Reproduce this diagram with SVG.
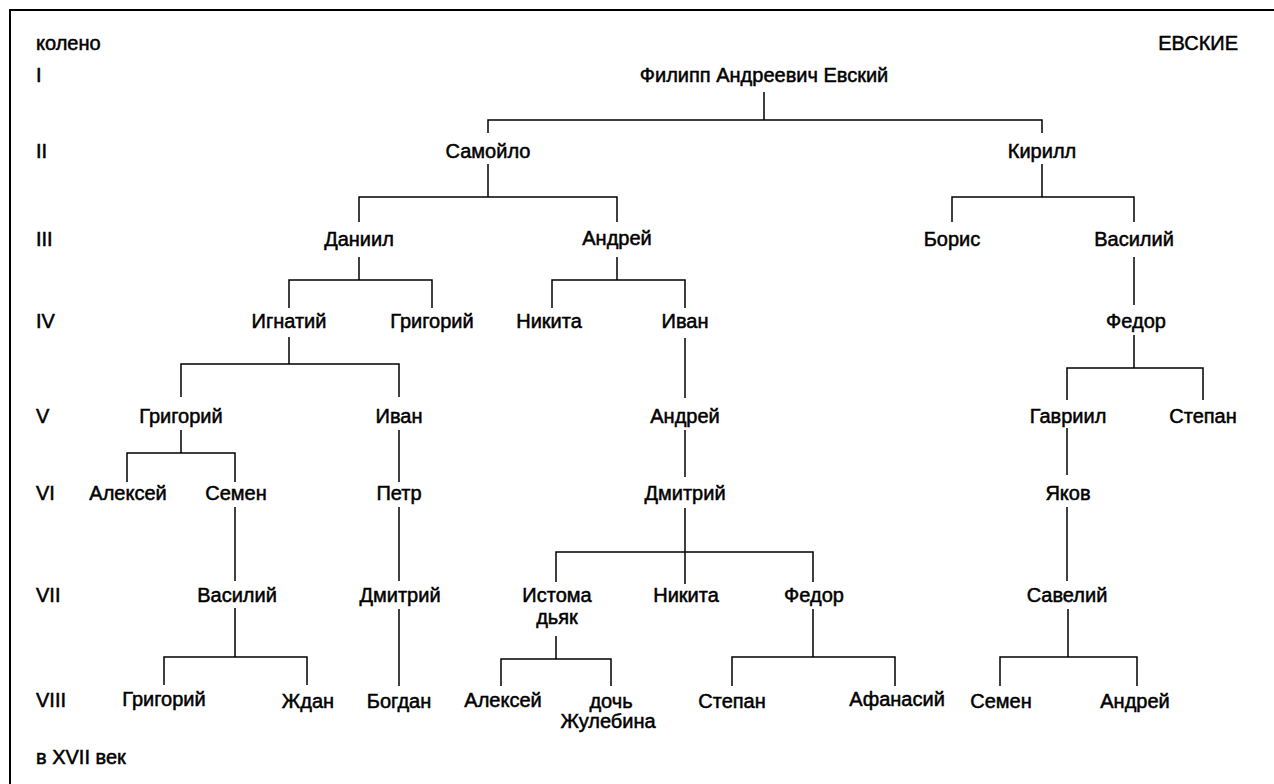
<svg xmlns="http://www.w3.org/2000/svg" width="1274" height="784" viewBox="0 0 1274 784">
<style>
  text { font-family: "Liberation Sans", Arial, sans-serif; font-size: 20px; fill: #000; stroke: #000; stroke-width: 0.5; }
  .n { text-anchor: middle; }
  .lbl { text-anchor: start; }
  .c { fill: none; stroke: #000; stroke-width: 1.5; }
  .frame { fill: none; stroke: #000; stroke-width: 2; }
</style>
<rect width="1274" height="784" fill="#fff"/>
<path class="frame" d="M10,784 V10 H1274"/>

<g id="labels">
  <text class="lbl" x="36" y="50">колено</text>
  <text class="lbl" x="36" y="82">I</text>
  <text class="lbl" x="36" y="158">II</text>
  <text class="lbl" x="36" y="246">III</text>
  <text class="lbl" x="36" y="328">IV</text>
  <text class="lbl" x="36" y="423">V</text>
  <text class="lbl" x="36" y="500">VI</text>
  <text class="lbl" x="36" y="602">VII</text>
  <text class="lbl" x="36" y="707">VIII</text>
  <text class="lbl" x="36" y="764">в XVII век</text>
  <text x="1238" y="50" text-anchor="end">ЕВСКИЕ</text>
</g>

<g id="connectors">
  <path class="c" d="M764,92 V120 M488,133 V120 H1042 V133"/>
  <path class="c" d="M488,164 V197 M359,222 V197 H617 V222"/>
  <path class="c" d="M1042,164 V197 M952,222 V197 H1134 V222"/>
  <path class="c" d="M359,257 V280 M289,308 V280 H432 V308"/>
  <path class="c" d="M617,257 V280 M552,308 V280 H685 V308"/>
  <path class="c" d="M1134,257 V305"/>
  <path class="c" d="M289,337 V364 M181,397 V364 H399 V397"/>
  <path class="c" d="M685,338 V398"/>
  <path class="c" d="M1134,335 V368 M1067,400 V368 H1203 V400"/>
  <path class="c" d="M181,430 V453 M127,482 V453 H235 V482"/>
  <path class="c" d="M399,430 V482"/>
  <path class="c" d="M685,430 V477"/>
  <path class="c" d="M1067,428 V475"/>
  <path class="c" d="M235,507 V581"/>
  <path class="c" d="M399,507 V581"/>
  <path class="c" d="M685,508 V584 M556,582 V552 H813 V582"/>
  <path class="c" d="M1067,507 V581"/>
  <path class="c" d="M235,608 V657 M164,685 V657 H307 V685"/>
  <path class="c" d="M399,609 V686"/>
  <path class="c" d="M556,636 V659 M501,686 V659 H611 V686"/>
  <path class="c" d="M813,609 V657 M732,686 V657 H895 V686"/>
  <path class="c" d="M1068,609 V657 M1000,686 V657 H1137 V686"/>
</g>

<g id="n-filipp"><text class="n" x="764" y="82">Филипп Андреевич Евский</text></g>
<g id="n-samoylo"><text class="n" x="488" y="158">Самойло</text></g>
<g id="n-kirill"><text class="n" x="1042" y="158">Кирилл</text></g>
<g id="n-daniil"><text class="n" x="359" y="246">Даниил</text></g>
<g id="n-andrey3"><text class="n" x="617" y="245">Андрей</text></g>
<g id="n-boris"><text class="n" x="952" y="246">Борис</text></g>
<g id="n-vasiliy3"><text class="n" x="1134" y="246">Василий</text></g>
<g id="n-ignatiy"><text class="n" x="289" y="328">Игнатий</text></g>
<g id="n-grigoriy4"><text class="n" x="432" y="328">Григорий</text></g>
<g id="n-nikita4"><text class="n" x="549" y="328">Никита</text></g>
<g id="n-ivan4"><text class="n" x="685" y="328">Иван</text></g>
<g id="n-fedor4"><text class="n" x="1136" y="328">Федор</text></g>
<g id="n-grigoriy5"><text class="n" x="181" y="423">Григорий</text></g>
<g id="n-ivan5"><text class="n" x="399" y="423">Иван</text></g>
<g id="n-andrey5"><text class="n" x="685" y="423">Андрей</text></g>
<g id="n-gavriil"><text class="n" x="1068" y="423">Гавриил</text></g>
<g id="n-stepan5"><text class="n" x="1203" y="423">Степан</text></g>
<g id="n-aleksey6"><text class="n" x="128" y="500">Алексей</text></g>
<g id="n-semen6"><text class="n" x="236" y="500">Семен</text></g>
<g id="n-petr"><text class="n" x="399" y="500">Петр</text></g>
<g id="n-dmitriy6"><text class="n" x="685" y="500">Дмитрий</text></g>
<g id="n-yakov"><text class="n" x="1068" y="500">Яков</text></g>
<g id="n-vasiliy7"><text class="n" x="237" y="602">Василий</text></g>
<g id="n-dmitriy7"><text class="n" x="400" y="602">Дмитрий</text></g>
<g id="n-istoma"><text class="n" x="557" y="602">Истома</text><text class="n" x="557" y="624">дьяк</text></g>
<g id="n-nikita7"><text class="n" x="686" y="602">Никита</text></g>
<g id="n-fedor7"><text class="n" x="814" y="602">Федор</text></g>
<g id="n-saveliy"><text class="n" x="1067" y="602">Савелий</text></g>
<g id="n-grigoriy8"><text class="n" x="164" y="706">Григорий</text></g>
<g id="n-zhdan"><text class="n" x="308" y="708">Ждан</text></g>
<g id="n-bogdan"><text class="n" x="399" y="708">Богдан</text></g>
<g id="n-aleksey8"><text class="n" x="503" y="707">Алексей</text></g>
<g id="n-doch"><text class="n" x="611" y="708">дочь</text><text class="n" x="608" y="728">Жулебина</text></g>
<g id="n-stepan8"><text class="n" x="732" y="708">Степан</text></g>
<g id="n-afanasiy"><text class="n" x="897" y="706">Афанасий</text></g>
<g id="n-semen8"><text class="n" x="1001" y="708">Семен</text></g>
<g id="n-andrey8"><text class="n" x="1135" y="708">Андрей</text></g>
</svg>
